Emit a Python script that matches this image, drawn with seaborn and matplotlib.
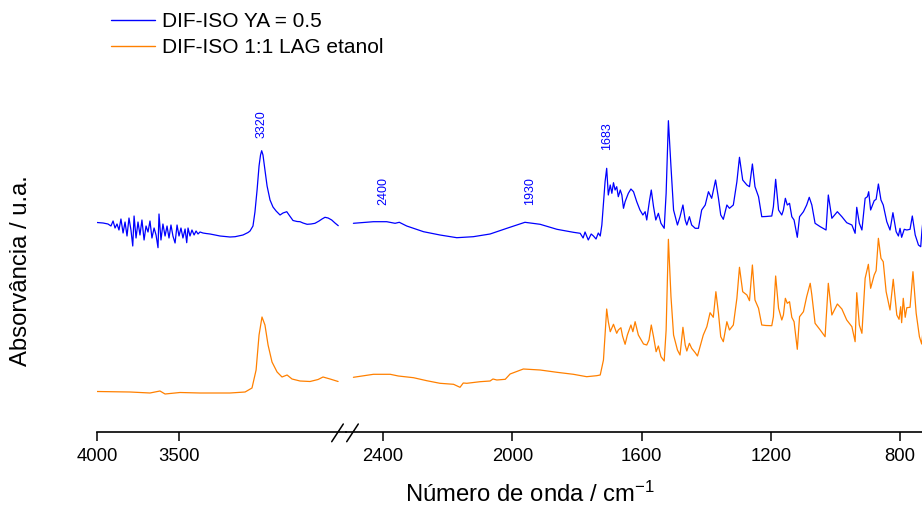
import matplotlib
matplotlib.use("Agg")
import matplotlib.pyplot as plt
import seaborn as sns
import pandas as pd
from matplotlib.lines import Line2D

sns.set_theme(style="ticks")
plt.rcParams['font.family'] = ['Liberation Sans', 'DejaVu Sans']
plt.rcParams['mathtext.fontset'] = 'custom'
plt.rcParams['mathtext.rm'] = 'Liberation Sans'
plt.rcParams['mathtext.it'] = 'Liberation Sans:italic'
plt.rcParams['text.color'] = 'black'
plt.rcParams['axes.labelcolor'] = 'black'
plt.rcParams['xtick.color'] = 'black'
plt.rcParams['ytick.color'] = 'black'

# ---------------- data ----------------
series_names = ["DIF-ISO YA = 0.5", "DIF-ISO 1:1 LAG etanol"]
series_colors = ["#0000FF", "#FF8000"]

left_ticks = [4000, 3500]
right_ticks = [2400, 2000, 1600, 1200, 800]

# Blue spectrum, high-wavenumber segment
blue_left_wn = [4000, 3963, 3933, 3915, 3902, 3890, 3878, 3866, 3854, 3841, 3829, 3817, 3805, 3793,
                3782, 3774, 3762, 3750, 3738, 3726, 3713, 3701, 3689, 3677, 3665, 3652, 3640, 3628,
                3622, 3610, 3598, 3585, 3573, 3561, 3549, 3537, 3524, 3512, 3500, 3488, 3476, 3463,
                3453, 3445, 3433, 3421, 3408, 3396, 3384, 3372, 3354, 3335, 3311, 3280, 3250, 3219,
                3189, 3158, 3110, 3079, 3067, 3049, 3037, 3024, 3012, 3003, 2996, 2988, 2976, 2963,
                2945, 2927, 2908, 2884, 2866, 2843, 2829, 2805, 2780, 2762, 2744, 2719, 2695, 2671,
                2646, 2628, 2610, 2591, 2569, 2549, 2529]
blue_left_abs = [2.095, 2.09, 2.08, 2.06, 2.11, 2.04, 2.08, 2.02, 2.13, 1.99, 2.10, 1.96, 2.14, 2.02,
                 1.86, 2.16, 1.94, 2.10, 1.97, 2.12, 1.92, 2.06, 2.00, 2.11, 1.94, 2.04, 1.97, 1.843,
                 2.18, 1.92, 2.08, 1.96, 2.06, 1.94, 2.07, 1.96, 1.89, 2.07, 1.96, 2.04, 1.94, 2.03,
                 1.893, 2.04, 1.96, 2.02, 1.97, 2.01, 1.98, 2.00, 1.99, 1.985, 1.98, 1.97, 1.96, 1.955,
                 1.95, 1.953, 1.97, 1.995, 2.01, 2.06, 2.20, 2.42, 2.66, 2.77, 2.813, 2.77, 2.62, 2.46,
                 2.32, 2.25, 2.21, 2.17, 2.19, 2.203, 2.17, 2.115, 2.105, 2.103, 2.09, 2.077, 2.08, 2.087,
                 2.11, 2.13, 2.147, 2.14, 2.12, 2.09, 2.063]

# Blue spectrum, low-wavenumber segment
blue_right_wn = [2492, 2430, 2389, 2363, 2350, 2327, 2275, 2224, 2172, 2121, 2069, 2017, 1961, 1914,
                 1862, 1811, 1790, 1781, 1775, 1765, 1756, 1749, 1741, 1734, 1728, 1723, 1713, 1708,
                 1703, 1697, 1692, 1687, 1682, 1677, 1672, 1666, 1661, 1656, 1651, 1641, 1633, 1625,
                 1615, 1605, 1596, 1589, 1584, 1576, 1570, 1563, 1556, 1548, 1540, 1530, 1524, 1517,
                 1509, 1501, 1489, 1481, 1472, 1465, 1460, 1452, 1445, 1434, 1424, 1414, 1403, 1393,
                 1383, 1371, 1362, 1355, 1347, 1336, 1328, 1316, 1305, 1297, 1287, 1274, 1266, 1257,
                 1249, 1238, 1228, 1215, 1197, 1192, 1185, 1176, 1166, 1161, 1155, 1149, 1142, 1135,
                 1128, 1118, 1111, 1099, 1089, 1081, 1073, 1063, 1047, 1029, 1022, 1011, 994, 980,
                 965, 949, 939, 934, 926, 918, 908, 901, 897, 891, 880, 874, 867, 859,
                 852, 841, 831, 822, 812, 805, 800, 795, 787, 779, 769, 762, 753, 743,
                 736, 732, 726]
blue_right_abs = [2.087, 2.103, 2.103, 2.087, 2.097, 2.06, 2.003, 1.97, 1.943, 1.953, 1.98, 2.037, 2.097, 2.077,
                  2.027, 1.997, 1.987, 1.94, 2.00, 1.92, 1.98, 1.96, 1.93, 1.99, 1.96, 2.07, 2.503, 2.637,
                  2.37, 2.47, 2.387, 2.493, 2.42, 2.453, 2.353, 2.42, 2.37, 2.237, 2.303, 2.387, 2.43, 2.403,
                  2.303, 2.22, 2.17, 2.203, 2.12, 2.303, 2.42, 2.253, 2.12, 2.187, 2.087, 2.037, 2.387, 3.113,
                  2.653, 2.22, 2.07, 2.153, 2.27, 2.12, 2.07, 2.153, 2.07, 2.037, 2.037, 2.22, 2.27, 2.403,
                  2.337, 2.52, 2.337, 2.17, 2.127, 2.27, 2.237, 2.27, 2.503, 2.747, 2.52, 2.47, 2.453, 2.68,
                  2.453, 2.353, 2.153, 2.155, 2.16, 2.253, 2.527, 2.22, 2.17, 2.22, 2.337, 2.27, 2.287, 2.153,
                  2.12, 1.947, 2.153, 2.203, 2.27, 2.347, 2.27, 2.087, 2.053, 2.02, 2.37, 2.137, 2.203, 2.153,
                  2.093, 2.07, 1.987, 2.247, 2.087, 2.02, 2.337, 2.353, 2.403, 2.22, 2.313, 2.327, 2.48, 2.32,
                  2.27, 2.103, 2.02, 2.193, 2.003, 1.96, 2.037, 1.947, 2.027, 2.02, 2.027, 2.16, 1.97, 1.87,
                  1.853, 2.02, 2.2]

# Orange spectrum, high-wavenumber segment
orange_left_wn = [4000, 3799, 3677, 3616, 3585, 3494, 3372, 3189, 3097, 3055, 3030, 3012, 2994, 2976,
                  2957, 2933, 2902, 2872, 2841, 2811, 2762, 2701, 2652, 2622, 2579, 2530]
orange_left_abs = [0.405, 0.40, 0.39, 0.41, 0.38, 0.395, 0.39, 0.39, 0.40, 0.44, 0.62, 0.97, 1.15, 1.07,
                   0.87, 0.70, 0.60, 0.55, 0.57, 0.53, 0.51, 0.505, 0.525, 0.55, 0.53, 0.505]

# Orange spectrum, low-wavenumber segment
orange_right_wn = [2492, 2430, 2378, 2353, 2306, 2265, 2224, 2182, 2171, 2162, 2152, 2141, 2100, 2069,
                   2060, 2048, 2022, 2007, 1966, 1914, 1862, 1811, 1770, 1739, 1728, 1718, 1708, 1703,
                   1697, 1687, 1677, 1672, 1664, 1659, 1651, 1644, 1633, 1627, 1620, 1610, 1594, 1584,
                   1577, 1570, 1563, 1555, 1548, 1540, 1530, 1524, 1517, 1509, 1501, 1489, 1481, 1472,
                   1465, 1460, 1452, 1445, 1434, 1427, 1419, 1409, 1398, 1388, 1378, 1370, 1362, 1355,
                   1347, 1336, 1328, 1316, 1305, 1297, 1287, 1274, 1266, 1257, 1249, 1238, 1228, 1215,
                   1197, 1192, 1185, 1176, 1166, 1161, 1155, 1149, 1142, 1135, 1128, 1118, 1111, 1099,
                   1089, 1078, 1073, 1063, 1047, 1032, 1022, 1011, 994, 980, 965, 949, 939, 934,
                   926, 918, 908, 898, 891, 880, 874, 867, 859, 852, 843, 831, 821, 810,
                   803, 798, 795, 790, 784, 779, 769, 760, 750, 740, 733, 726]
orange_right_abs = [0.547, 0.577, 0.577, 0.56, 0.543, 0.513, 0.487, 0.477, 0.46, 0.447, 0.49, 0.487, 0.503, 0.51,
                    0.53, 0.52, 0.527, 0.58, 0.63, 0.62, 0.597, 0.577, 0.553, 0.563, 0.57, 0.72, 1.23, 1.103,
                    1.003, 1.077, 0.987, 1.02, 1.043, 0.96, 0.877, 0.97, 1.07, 1.003, 1.103, 0.97, 0.88, 0.87,
                    0.92, 1.07, 0.953, 0.803, 0.86, 0.753, 0.71, 1.02, 1.927, 1.353, 0.97, 0.82, 0.77, 1.047,
                    0.87, 0.81, 0.887, 0.837, 0.793, 0.76, 0.853, 0.97, 1.053, 1.193, 1.147, 1.403, 1.187, 0.953,
                    0.903, 1.103, 1.02, 1.07, 1.337, 1.647, 1.403, 1.37, 1.313, 1.67, 1.32, 1.237, 1.07, 1.065,
                    1.063, 1.153, 1.56, 1.237, 1.12, 1.17, 1.337, 1.287, 1.303, 1.147, 1.103, 0.827, 1.153, 1.203,
                    1.353, 1.487, 1.37, 1.087, 1.02, 0.953, 1.487, 1.17, 1.28, 1.23, 1.12, 1.053, 0.903, 1.393,
                    1.07, 0.987, 1.537, 1.677, 1.437, 1.57, 1.613, 1.937, 1.737, 1.703, 1.403, 1.22, 1.527, 1.17,
                    1.127, 1.253, 1.093, 1.337, 1.147, 1.243, 1.247, 1.603, 1.187, 0.953, 0.88, 1.1]

# Peak annotations: (label, wavenumber position, height, segment)
peak_labels = ["3320", "2400", "1930", "1683"]
peak_wn = [2996, 2400, 1945, 1708]
peak_abs = [2.94, 2.27, 2.27, 2.82]
peak_segment = ["left", "right", "right", "right"]

# ---------------- build tables ----------------
def make_df(wn_a, ab_a, wn_b, ab_b):
    d1 = pd.DataFrame({"wn": wn_a, "abs": ab_a, "series": series_names[0]})
    d2 = pd.DataFrame({"wn": wn_b, "abs": ab_b, "series": series_names[1]})
    return pd.concat([d1, d2], ignore_index=True)

df_left = make_df(blue_left_wn, blue_left_abs, orange_left_wn, orange_left_abs)
df_right = make_df(blue_right_wn, blue_right_abs, orange_right_wn, orange_right_abs)
palette = dict(zip(series_names, series_colors))

# ---------------- figure ----------------
W, H = 922, 509
fig = plt.figure(figsize=(W / 100, H / 100), dpi=100)
x_left0, x_break, x_right1 = 97, 346.3, 922
y_bot, y_top = 432, 95
axL = fig.add_axes([x_left0 / W, (H - y_bot) / H, (x_break - x_left0) / W, (y_bot - y_top) / H])
axR = fig.add_axes([x_break / W, (H - y_bot) / H, (x_right1 - x_break) / W, (y_bot - y_top) / H])

for ax, df in ((axL, df_left), (axR, df_right)):
    sns.lineplot(data=df, x="wn", y="abs", hue="series", palette=palette, ax=ax,
                 legend=False, sort=False, estimator=None, linewidth=0.9)
    ax.set_ylim(0, 3.37)
    ax.set_yticks([])
    ax.set_xlabel("")
    ax.set_ylabel("")
    for s in ("top", "right", "left"):
        ax.spines[s].set_visible(False)
    ax.spines["bottom"].set_linewidth(1.2)
    ax.spines["bottom"].set_color("black")
    ax.tick_params(axis="x", direction="out", length=6.5, width=1.1, labelsize=13.3,
                   colors="black", pad=5)
    ax.patch.set_alpha(0)

axL.set_xlim(4000, 2480)
axR.set_xlim(2514, 732)
axL.set_xticks(left_ticks)
axR.set_xticks(right_ticks)

for lab, wn, ab, seg in zip(peak_labels, peak_wn, peak_abs, peak_segment):
    ax = axL if seg == "left" else axR
    ax.text(wn, ab, lab, rotation=90, ha="center", va="bottom", fontsize=9, color="#0000FF")

axL.set_ylabel("Absorvância / u.a.", fontsize=17.2, color="black")
axL.yaxis.set_label_coords((32 - x_left0) / (x_break - x_left0), 0.48)
axR.set_xlabel("Número de onda / cm$^{-1}$", fontsize=17.2, color="black")
axR.xaxis.set_label_coords((530 - x_break) / (x_right1 - x_break), (y_bot - 482) / (y_bot - y_top))

# axis break marks
for (x0, x1) in ((331.7, 343.3), (346.7, 358.3)):
    fig.add_artist(Line2D([x0 / W, x1 / W], [1 - 441.7 / H, 1 - 424 / H],
                          transform=fig.transFigure, color="black", lw=1.1))

handles = [Line2D([], [], color=c, lw=1.0) for c in series_colors]
fig.legend(handles, series_names, loc="upper left", bbox_to_anchor=(111 / W, 1 - 12 / H),
           frameon=False, fontsize=15, handlelength=2.1, handletextpad=0.35,
           labelspacing=0.33, borderpad=0, borderaxespad=0)

fig.savefig("out.png", dpi=100)
